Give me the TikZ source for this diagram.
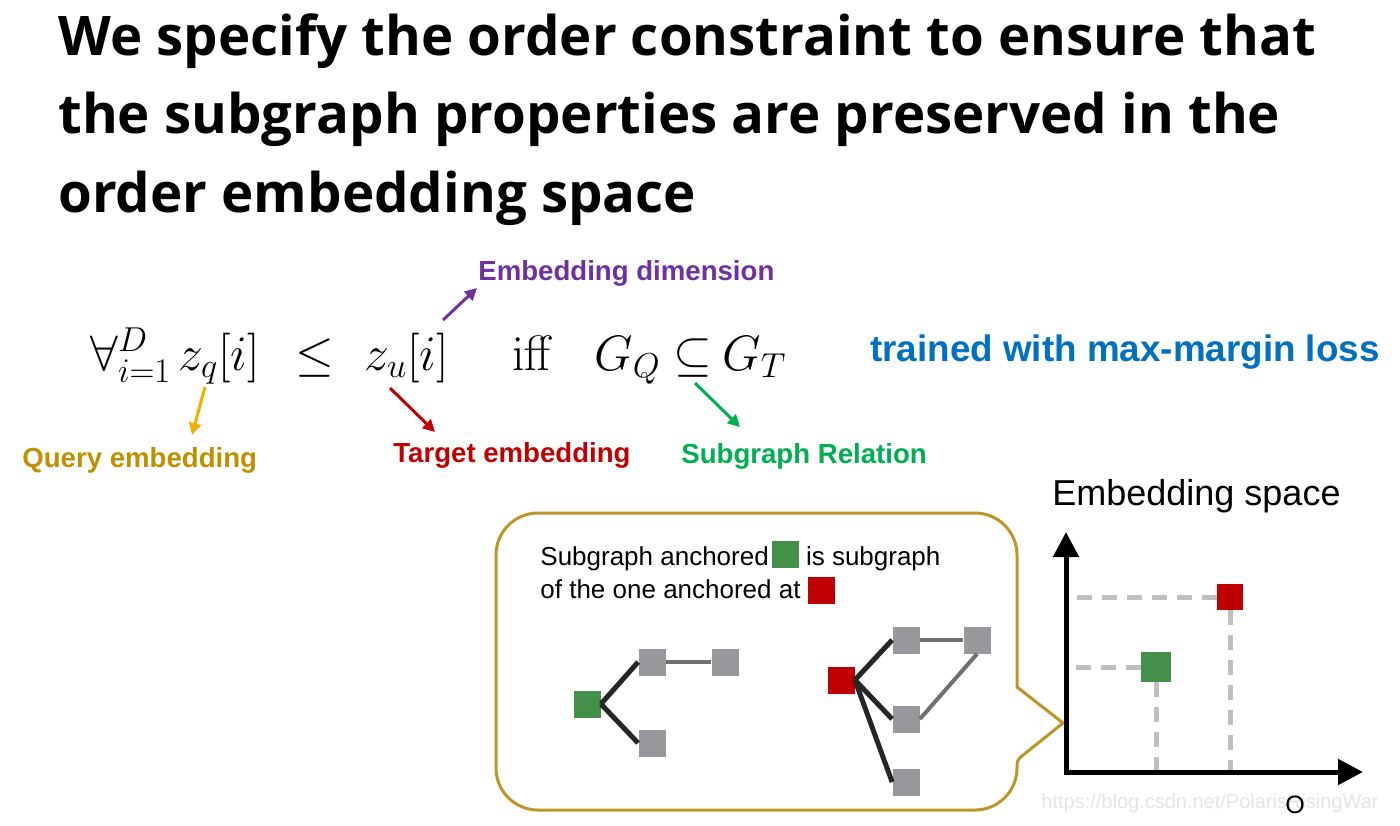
\documentclass[tikz,border=0pt]{standalone}
\usepackage[no-math]{fontspec}
\setmainfont{Liberation Sans}
\newfontfamily\titlefont{Open Sans}
\usetikzlibrary{arrows.meta,positioning,calc}
\definecolor{querygold}{RGB}{191,144,0}
\definecolor{queryarrow}{RGB}{240,176,0}
\definecolor{targetred}{RGB}{192,0,0}
\definecolor{relgreen}{RGB}{0,176,80}
\definecolor{dimpurple}{RGB}{112,48,160}
\definecolor{lossblue}{RGB}{0,112,192}
\definecolor{anchorgreen}{RGB}{67,145,72}
\definecolor{nodegray}{RGB}{152,152,156}
\definecolor{edgedark}{RGB}{38,38,38}
\definecolor{edgegray}{RGB}{112,112,112}
\definecolor{dashgray}{RGB}{191,191,191}
\definecolor{bubbleline}{RGB}{190,150,40}
\definecolor{markgray}{RGB}{228,228,228}

\begin{document}
\begin{tikzpicture}[
    x=0.5pt, y=-0.5pt,
    title/.style={anchor=base west, inner sep=0, font=\titlefont\bfseries\fontsize{27.3}{33}\selectfont},
    term/.style={anchor=base west, inner sep=0, font=\fontsize{27}{32}\selectfont},
    label/.style={anchor=base west, inner sep=0, font=\bfseries\fontsize{13.8}{16}\selectfont},
    callout/.style={anchor=base west, inner sep=0, font=\fontsize{13}{16}\selectfont},
    gnode/.style={minimum size=13.5pt, inner sep=0, fill=nodegray},
    anchornode/.style={gnode, fill=anchorgreen},
    targetnode/.style={gnode, fill=targetred},
    core/.style={line width=2.5pt, draw=edgedark},
    side/.style={line width=2pt, draw=edgegray},
    note/.style={-{Triangle[width=6pt,length=6pt]}, line width=1.5pt},
    axis/.style={{Triangle[width=12.5pt,length=12.5pt]}-{Triangle[width=12.5pt,length=12.5pt]}, line width=2.5pt},
    guide/.style={draw=dashgray, line width=2.5pt, dash pattern=on 7.5pt off 5pt}
  ]
    \fill[white] (0,0) rectangle (1400,825);
    \useasboundingbox (0,0) rectangle (1400,825);

    % title
    \node[title] (title1) at (58,55) {We specify the order constraint to ensure that};
    \node[title] (title2) at (58,133) {the subgraph properties are preserved in the};
    \node[title] (title3) at (58,212) {order embedding space};

    % formula, piece by piece
    \node[term] (quant) at (90,370) {$\forall_{i=1}^{D}$};
    \node[term] (zq) at (178,370) {$z_q[i]$};
    \node[term] (leq) at (295,370) {$\leq$};
    \node[term] (zu) at (364,370) {$z_u[i]$};
    \node[term] (iff) at (512,370) {$\mathrm{iff}$};
    \node[term] (gq) at (594,370) {$G_Q$};
    \node[term] (subs) at (673,370) {$\subseteq$};
    \node[term] (gt) at (722,370) {$G_T$};

    % labels
    \node[label, text=dimpurple] (dim) at (478,280) {Embedding dimension};
    \node[label, text=querygold] (query) at (22,467) {Query embedding};
    \node[label, text=targetred] (target) at (393,462) {Target embedding};
    \node[label, text=relgreen] (relation) at (681,463) {Subgraph Relation};
    \node[anchor=base west, inner sep=0, font=\bfseries\fontsize{18.4}{22}\selectfont, text=lossblue] (loss) at (870,361) {trained with max-margin loss};

    \coordinate (dimtail) at (443,320);
    \coordinate (dimhead) at (477,288);
    \coordinate (querytail) at (205,387);
    \coordinate (queryhead) at (192,435);
    \coordinate (targettail) at (390,388);
    \coordinate (targethead) at (435,432);
    \coordinate (reltail) at (695,383);
    \coordinate (relhead) at (740,427);
    \draw[note, dimpurple] (dimtail) -- (dimhead);
    \draw[note, queryarrow] (querytail) -- (queryhead);
    \draw[note, targetred] (targettail) -- (targethead);
    \draw[note, relgreen] (reltail) -- (relhead);

    % callout bubble
    \draw[draw=bubbleline, line width=1.5pt, rounded corners=21pt]
      (760,513) -- (1017,513) [sharp corners] -- (1017,687) -- (1063,723)
      [rounded corners=2pt] -- (1017,760) [rounded corners=21pt] -- (1017,810) -- (496,810) -- (496,513) -- cycle;
    \node[callout] (line1) at (540,565) {Subgraph anchored\hspace{1.5pt}\textcolor{anchorgreen}{\rule[-1.5pt]{13.5pt}{13.5pt}} is subgraph};
    \node[callout] (line2) at (540,598) {of the one anchored at \textcolor{targetred}{\rule[-3pt]{13.5pt}{13.5pt}}};

    % query graph
    \node[anchornode] (ga) at (587,704) {};
    \node[gnode] (g1) at (652,662) {};
    \node[gnode] (g2) at (725,662) {};
    \node[gnode] (g3) at (652,743) {};
    \draw[core] (ga.east) -- (g1.west);
    \draw[core] (ga.east) -- (g3.west);
    \draw[side] (g1.east) -- (g2.west);

    % target graph
    \node[targetnode] (ra) at (841,680) {};
    \node[gnode] (r1) at (906,640) {};
    \node[gnode] (r2) at (977,640) {};
    \node[gnode] (r3) at (906,719) {};
    \node[gnode] (r4) at (906,782) {};
    \draw[core] (ra.east) -- (r1.west);
    \draw[core] (ra.east) -- (r3.west);
    \draw[core] (ra.east) -- (r4.west);
    \draw[side] (r1.east) -- (r2.west);
    \draw[side] (r2.south) -- (r3.east);

    % embedding space
    \node[anchor=base west, inner sep=0, font=\fontsize{18}{22}\selectfont] (space) at (1052,505) {Embedding space};
    \coordinate (origin) at (1066,772);
    \coordinate (ytop) at (1066,532);
    \coordinate (xend) at (1363,772);
    \node[anchornode, minimum size=15pt] (qpt) at (1156,667) {};
    \node[targetnode, minimum size=13pt] (tpt) at (1230,597) {};
    \draw[guide] (qpt.west) -- (qpt.west -| origin);
    \draw[guide] (qpt.south) -- (qpt.south |- origin);
    \draw[guide] (tpt.west) -- (tpt.west -| origin);
    \draw[guide] (tpt.south) -- (tpt.south |- origin);
    \draw[axis] (ytop) -- (origin) -- (xend);
    \node[font=\fontsize{10}{12}\selectfont, text=markgray, inner sep=0] (mark) at (1210,803) {https://blog.csdn.net/PolarisRisingWar};
    \node[font=\fontsize{12.5}{14}\selectfont, inner sep=0] (o) at (1295,805) {O};
\end{tikzpicture}
\end{document}
